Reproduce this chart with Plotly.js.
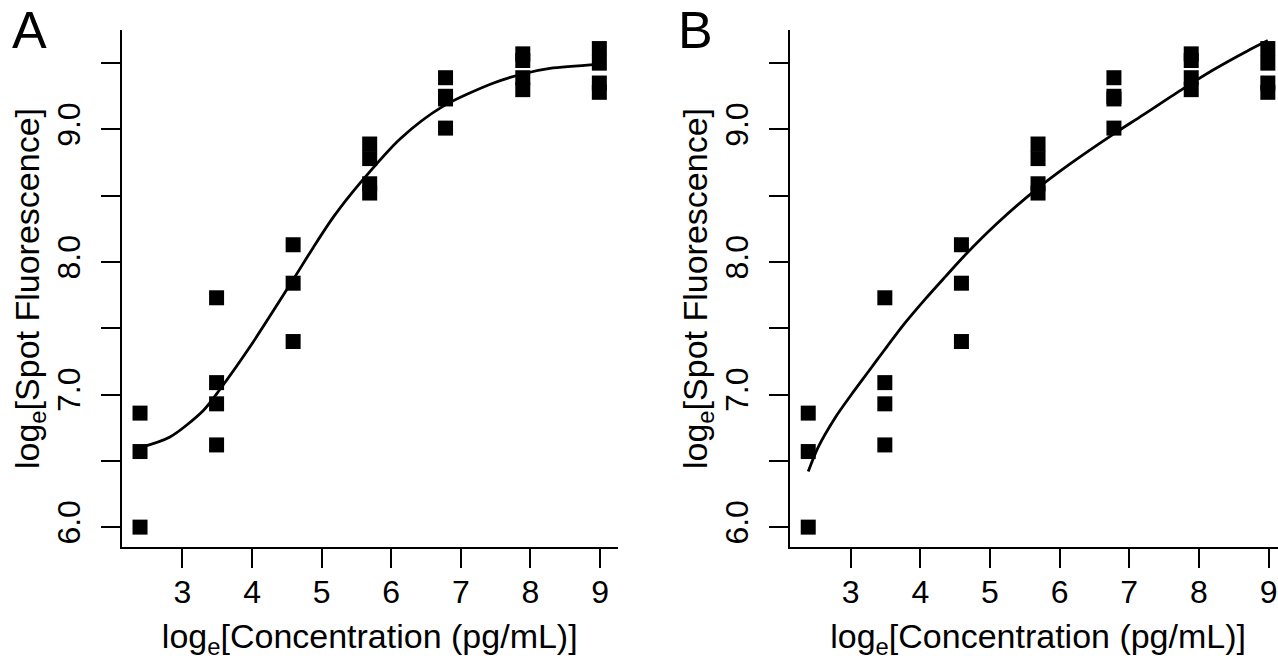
<!DOCTYPE html>
<html><head><meta charset="utf-8">
<script src="https://cdn.plot.ly/plotly-3.0.1.min.js"></script>
<style>
html,body{margin:0;padding:0;overflow:hidden;background:#fff;width:1278px;height:660px}
#chart{width:1290px;height:660px}
</style>
</head><body><div id="chart"></div>
<script>
// Observed data (same replicate spots in both panels)
const concX = [2.39,2.39,2.39, 3.49,3.49,3.49,3.49, 4.59,4.59,4.59, 5.69,5.69,5.69,5.69,
               6.78,6.78,6.78,6.78, 7.89,7.89,7.89,7.89, 8.99,8.99,8.99,8.99];
const fluor  = [6.86,6.57,6.00, 7.73,7.09,6.93,6.62, 8.13,7.84,7.40, 8.89,8.78,8.59,8.52,
               9.39,9.25,9.23,9.01, 9.57,9.52,9.39,9.30, 9.61,9.50,9.35,9.28];

// Fitted curve, panel A
const fitAx = [2.39,2.82,3.30,3.54,3.97,4.57,4.88,5.17,5.56,6.13,6.73,7.47,7.90,8.28,8.99];
const fitAy = [6.60,6.68,6.88,7.04,7.36,7.85,8.11,8.34,8.60,8.93,9.17,9.35,9.42,9.46,9.49];

// Fitted curve, panel B
const fitBx = [2.39,2.53,2.77,3.01,3.25,3.49,3.78,4.07,4.36,4.62,5.10,5.67,6.15,6.73,7.20,7.78,8.21,8.69,8.99];
const fitBy = [6.42,6.60,6.82,7.00,7.17,7.34,7.54,7.72,7.89,8.04,8.29,8.55,8.74,8.95,9.11,9.31,9.45,9.59,9.67];

const xTickVals = [3,4,5,6,7,8,9];
const xTickText = ['3','4','5','6','7','8','9'];
const yTickVals = [6,7,8,9];
const yTickText = ['6.0','7.0','8.0','9.0'];
const yMinorTickVals = [6.5,7.5,8.5,9.5];
const panelLabels = ['A','B'];
const xTitle = 'log<sub>e</sub>[Concentration (pg/mL)]';
const yTitle = 'log<sub>e</sub>[Spot Fluorescence]';

const FONT = 'Liberation Sans, Arial, Helvetica, sans-serif';
const W = 1290, H = 660;
const mL = 122, mR = 4, mT = 30, mB = 113;
const pw = W - mL - mR;
const ph = H - mT - mB;

function pointsTrace(xa, ya){
  return {x: concX, y: fluor, xaxis: xa, yaxis: ya, type: 'scatter', mode: 'markers',
          marker: {symbol: 'square', size: 15, color: '#000', line: {width: 0}},
          hoverinfo: 'x+y', showlegend: false, cliponaxis: false};
}
function curveTrace(x, y, xa, ya){
  return {x: x, y: y, xaxis: xa, yaxis: ya, type: 'scatter', mode: 'lines',
          line: {color: '#000', width: 2.8, shape: 'spline', smoothing: 0.8},
          hoverinfo: 'skip', showlegend: false};
}

function xAxis(dom){
  return {domain: dom, range: [2.131, 9.251], showline: true, linecolor: '#000', linewidth: 2,
          ticks: 'outside', ticklen: 19, tickwidth: 2, tickcolor: '#000',
          tickvals: xTickVals, ticktext: xTickText, showgrid: false, zeroline: false,
          tickfont: {family: FONT, size: 32, color: '#000'}, ticklabelstandoff: -3,
          title: {text: xTitle, font: {family: FONT, size: 34, color: '#000'}, standoff: 15},
          automargin: false, fixedrange: true};
}
function yAxis(anchor){
  return {domain: [0, 1], anchor: anchor, range: [5.85, 9.75], showline: true, linecolor: '#000', linewidth: 2,
          ticks: 'outside', ticklen: 19, tickwidth: 2, tickcolor: '#000',
          tickvals: yTickVals, ticktext: yTickText, tickangle: -90, showgrid: false, zeroline: false,
          minor: {tickvals: yMinorTickVals, ticks: 'outside', ticklen: 19, tickwidth: 2, tickcolor: '#000', showgrid: false},
          tickfont: {family: FONT, size: 32, color: '#000'}, ticklabelstandoff: 8,
          title: {text: yTitle, font: {family: FONT, size: 34, color: '#000'}, standoff: 0},
          automargin: false, fixedrange: true};
}

const domA = [0, (617.5 - mL) / pw];
const domB = [(790.2 - mL) / pw, 1];

const layout = {
  width: W, height: H,
  margin: {l: mL, r: mR, t: mT, b: mB, pad: 0},
  paper_bgcolor: '#fff', plot_bgcolor: '#fff',
  showlegend: false,
  xaxis: Object.assign(xAxis(domA), {anchor: 'y'}),
  yaxis: yAxis('x'),
  xaxis2: Object.assign(xAxis(domB), {anchor: 'y2'}),
  yaxis2: yAxis('x2'),
  annotations: [
    {text: panelLabels[0], xref: 'paper', yref: 'paper', x: (29 - mL) / pw, y: (H - mB - 30) / ph,
     xanchor: 'center', yanchor: 'middle', showarrow: false, font: {family: FONT, size: 52, color: '#000'}},
    {text: panelLabels[1], xref: 'paper', yref: 'paper', x: (695 - mL) / pw, y: (H - mB - 30) / ph,
     xanchor: 'center', yanchor: 'middle', showarrow: false, font: {family: FONT, size: 52, color: '#000'}}
  ]
};

const data = [
  curveTrace(fitAx, fitAy, 'x', 'y'), pointsTrace('x', 'y'),
  curveTrace(fitBx, fitBy, 'x2', 'y2'), pointsTrace('x2', 'y2')
];

Plotly.newPlot('chart', data, layout, {displayModeBar: false, staticPlot: true});
</script>
</body></html>
